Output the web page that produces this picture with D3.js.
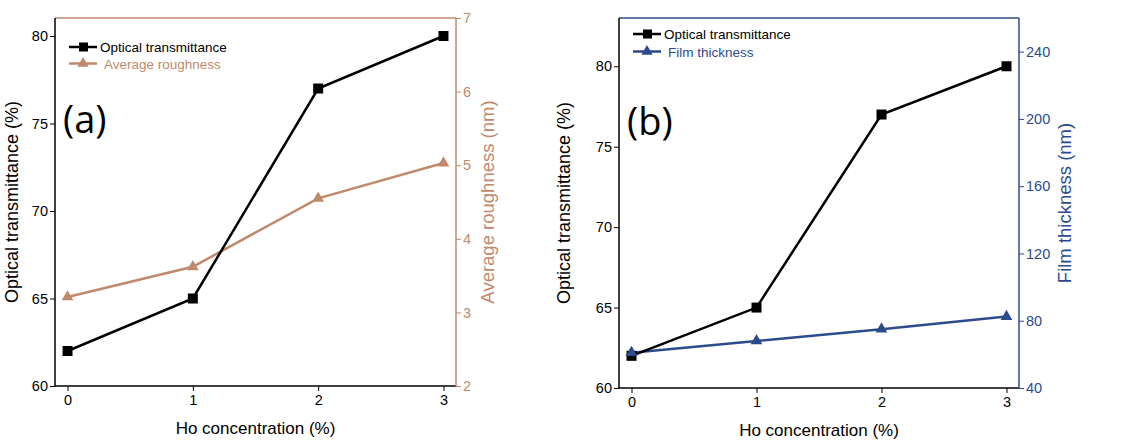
<!DOCTYPE html>
<html lang="en">
<head>
  <meta charset="UTF-8">
  <title>Ho concentration</title>
  <script src="https://d3js.org/d3.v7.min.js"></script>
  <style>
    body { margin: 0; background: #fff; font-family: "Liberation Sans", Arial, sans-serif; }
    svg text { font-family: "Liberation Sans", Arial, sans-serif; }
  </style>
</head>
<body>
<svg width="1128" height="441"></svg>

<script>
  const concentration = [0, 1, 2, 3];
  const transmittance = [62, 65, 77, 80];
  const roughness = [3.21, 3.62, 4.55, 5.03];
  const thickness = [61, 68, 75, 82.5];

  const xTicks = [0, 1, 2, 3];
  const transTicks = [60, 65, 70, 75, 80];
  const roughTicks = [2, 3, 4, 5, 6, 7];
  const thickTicks = [40, 80, 120, 160, 200, 240];

  const brown = "#c0896c";
  const blue = "#2c4b8c";

  const svg = d3.select("svg");

  function panel(opt) {
    const g = svg.append("g");
    const x = d3.scaleLinear().domain([-0.1, 3.1]).range([opt.left, opt.right]);
    const yL = d3.scaleLinear().domain(opt.leftDomain).range([opt.bottom, opt.top]);
    const yR = d3.scaleLinear().domain(opt.rightDomain).range([opt.bottom, opt.top]);

    // top frame line in right-axis colour
    g.append("line")
      .attr("x1", opt.left).attr("x2", opt.right)
      .attr("y1", opt.top).attr("y2", opt.top)
      .attr("stroke", opt.color).attr("stroke-width", 1.5);

    // x axis
    const xAxis = g.append("g").attr("transform", `translate(0,${opt.bottom})`);
    xAxis.call(d3.axisBottom(x).tickValues([0.5, 1.5, 2.5]).tickSize(3).tickFormat(""));
    xAxis.call(d3.axisBottom(x).tickValues(xTicks).tickSize(5).tickPadding(4).tickFormat(d3.format("d")));

    // left axis
    const lAxis = g.append("g").attr("transform", `translate(${opt.left},0)`);
    lAxis.call(d3.axisLeft(yL).tickValues(d3.range(62.5, opt.leftDomain[1], 5)).tickSize(3).tickFormat(""));
    lAxis.call(d3.axisLeft(yL).tickValues(transTicks).tickSize(5).tickPadding(2).tickFormat(d3.format("d")));

    // right axis
    const rAxis = g.append("g").attr("transform", `translate(${opt.right},0)`);
    rAxis.call(d3.axisRight(yR).tickValues(opt.rightMinor).tickSize(3).tickFormat(""));
    rAxis.call(d3.axisRight(yR).tickValues(opt.rightTicks).tickSize(5).tickPadding(2).tickFormat(d3.format("d")));

    [xAxis, lAxis].forEach(a => {
      a.selectAll(".domain").attr("stroke", "#000").attr("stroke-width", 1.5);
      a.selectAll("line").attr("stroke", "#000");
      a.selectAll("text").attr("fill", "#000").style("font-size", "14.5px");
    });
    rAxis.selectAll(".domain").attr("stroke", opt.color).attr("stroke-width", 1.5);
    rAxis.selectAll("line").attr("stroke", opt.color);
    rAxis.selectAll("text").attr("fill", opt.color).style("font-size", "14.5px");
    xAxis.selectAll(".domain").attr("d", `M${opt.left},0H${opt.right}`);
    lAxis.selectAll(".domain").attr("d", `M0,${opt.bottom}V${opt.top}`);
    rAxis.selectAll(".domain").attr("d", `M0,${opt.bottom}V${opt.top}`);

    // axis titles
    g.append("text")
      .attr("x", (opt.left + opt.right) / 2).attr("y", opt.bottom + 48)
      .attr("text-anchor", "middle").style("font-size", "17px")
      .text("Ho concentration (%)");
    g.append("text")
      .attr("transform", `translate(${opt.left - opt.leftTitleOff},${(opt.top + opt.bottom) / 2}) rotate(-90)`)
      .attr("text-anchor", "middle").style("font-size", "18px")
      .text("Optical transmittance (%)");
    g.append("text")
      .attr("transform", `translate(${opt.right + opt.rightTitleOff},${(opt.top + opt.bottom) / 2}) rotate(-90)`)
      .attr("text-anchor", "middle").attr("fill", opt.color).style("font-size", "18.5px")
      .text(opt.rightTitle);

    // series 2 (coloured) then transmittance on top
    const line2 = d3.line().x((d, i) => x(concentration[i])).y(d => yR(d));
    g.append("path").datum(opt.series2)
      .attr("fill", "none").attr("stroke", opt.color).attr("stroke-width", 2.5)
      .attr("d", line2);
    g.selectAll(".tri").data(opt.series2).enter().append("path")
      .attr("transform", (d, i) => `translate(${x(concentration[i])},${yR(d)})`)
      .attr("d", d3.symbol(d3.symbolTriangle, 60))
      .attr("fill", opt.color);

    const line1 = d3.line().x((d, i) => x(concentration[i])).y(d => yL(d));
    g.append("path").datum(transmittance)
      .attr("fill", "none").attr("stroke", "#000").attr("stroke-width", 2.5)
      .attr("d", line1);
    g.selectAll(".sq").data(transmittance).enter().append("rect")
      .attr("x", (d, i) => x(concentration[i]) - 5)
      .attr("y", d => yL(d) - 5)
      .attr("width", 10).attr("height", 10)
      .attr("fill", "#000");

    if (opt.name === "(b)") {
      // film thickness first point drawn over the square, as in the figure
      g.append("path")
        .attr("transform", `translate(${x(concentration[0])},${yR(opt.series2[0])})`)
        .attr("d", d3.symbol(d3.symbolTriangle, 60))
        .attr("fill", opt.color);
    }

    // legend
    const lg = g.append("g").attr("transform", `translate(${opt.legX},${opt.legY})`);
    const rows = [
      { label: "Optical transmittance", color: "#000", sq: true },
      { label: opt.legend2, color: opt.color, sq: false }
    ];
    rows.forEach((r, i) => {
      const yy = i * opt.legGap;
      lg.append("line").attr("x1", 0).attr("x2", 28).attr("y1", yy).attr("y2", yy)
        .attr("stroke", r.color).attr("stroke-width", 2.5);
      if (r.sq) {
        lg.append("rect").attr("x", 10).attr("y", yy - 4.5).attr("width", 9).attr("height", 9).attr("fill", r.color);
      } else {
        lg.append("path").attr("transform", `translate(14,${yy})`)
          .attr("d", d3.symbol(d3.symbolTriangle, 55)).attr("fill", r.color);
      }
      lg.append("text").attr("x", r.sq ? 31 : 35).attr("y", yy + 5)
        .attr("fill", r.color).style("font-size", "13.5px")
        .text(r.label);
    });

    g.append("text")
      .attr("x", opt.left + 8).attr("y", opt.labelY)
      .style("font-size", "38px").style("font-family", "'Open Sans', sans-serif")
      .text(opt.name);
  }

  panel({
    name: "(a)", left: 55, right: 456, top: 18, bottom: 386,
    leftDomain: [60, 81.03], rightDomain: [2, 7],
    rightTicks: roughTicks, rightMinor: d3.range(2.5, 7, 1),
    series2: roughness, color: brown,
    rightTitle: "Average roughness (nm)", leftTitleOff: 37, rightTitleOff: 38,
    legend2: "Average roughness", legX: 69, legY: 47, legGap: 16.5,
    labelY: 133
  });

  panel({
    name: "(b)", left: 619, right: 1019, top: 18, bottom: 388,
    leftDomain: [60, 83], rightDomain: [40, 260],
    rightTicks: thickTicks, rightMinor: d3.range(60, 260, 40),
    series2: thickness, color: blue,
    rightTitle: "Film thickness (nm)", leftTitleOff: 49, rightTitleOff: 52,
    legend2: "Film thickness", legX: 633, legY: 34, legGap: 17.5,
    labelY: 135
  });
</script>
</body>
</html>
